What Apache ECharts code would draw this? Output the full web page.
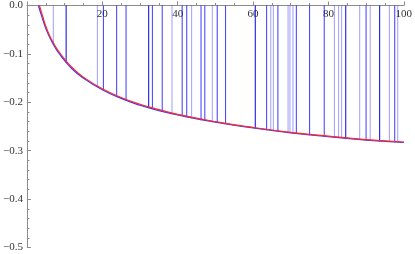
<!DOCTYPE html>
<html><head><meta charset="utf-8">
<script src="https://cdn.jsdelivr.net/npm/echarts@6/dist/echarts.min.js"></script>
<style>html,body{margin:0;padding:0;background:#fff}#c{width:415px;height:254px}</style>
</head><body><div id="c"></div>
<script>
// Curves (x, y)
const curveX = [3.3, 4, 5, 6, 7, 8, 10, 12, 15, 20, 25, 30, 35, 40, 50, 60, 70, 80, 90, 100];
const redY   = [0, -0.018, -0.043, -0.062, -0.077, -0.090, -0.111, -0.128, -0.148, -0.172, -0.190, -0.204, -0.215, -0.225, -0.240, -0.252, -0.262, -0.270, -0.277, -0.282];
const blueX  = [3.05, 4, 5, 6, 7, 8, 10, 12, 15, 20, 25, 30, 35, 40, 50, 60, 70, 80, 90, 100];
const blueY  = [0, -0.024, -0.047, -0.065, -0.080, -0.093, -0.114, -0.131, -0.150, -0.174, -0.192, -0.206, -0.217, -0.226, -0.241, -0.253, -0.263, -0.271, -0.278, -0.283];

// Vertical lines from 0 down to the curve
const lightLineX   = [7.0, 18.7, 38.5, 43.7, 49.2, 64.7, 65.4, 69.3, 69.8, 70.6, 81.6, 82.7, 83.5, 88.3, 91.1, 96.2, 98.4];
const lightLineEnd = [-0.079, -0.169, -0.224, -0.233, -0.241, -0.259, -0.260, -0.263, -0.264, -0.264, -0.273, -0.274, -0.275, -0.278, -0.280, -0.282, -0.283];
const midLineX     = [20.3, 23.8, 26.3, 33.3, 35.9, 41.2, 42.4, 46.2, 47.2, 50.5, 52.7, 63.6, 66.6, 71.5, 75.0, 78.9, 90.0, 97.6];
const midLineEnd   = [-0.175, -0.188, -0.196, -0.213, -0.219, -0.229, -0.231, -0.237, -0.238, -0.243, -0.245, -0.258, -0.261, -0.265, -0.268, -0.271, -0.279, -0.283];
const darkLineX    = [10.4, 32.3, 60.6, 84.6, 93.6];
const darkLineEnd  = [-0.118, -0.211, -0.254, -0.275, -0.281];

const xTicks = [20, 40, 60, 80, 100];
const yTicks = [0, -0.1, -0.2, -0.3, -0.4, -0.5];

const zip = (a, b) => a.map((v, i) => [v, b[i]]);

function vlineSeries(xs, ends, color) {
  return {
    type: 'custom',
    data: zip(xs, ends),
    silent: true,
    z: 1,
    renderItem: function (params, api) {
      const p0 = api.coord([api.value(0), 0]);
      const p1 = api.coord([api.value(0), api.value(1)]);
      return {
        type: 'line',
        shape: { x1: p0[0], y1: p0[1], x2: p1[0], y2: p1[1] },
        style: { stroke: color, lineWidth: 1.1 }
      };
    }
  };
}

const axisGray = '#8c8c8c';
const labelFont = { fontFamily: 'Liberation Serif', fontSize: 11, color: '#333' };

const chart = echarts.init(document.getElementById('c'), null, { renderer: 'canvas' });
chart.setOption({
  animation: false,
  grid: { left: 23.3, right: 8.3, top: 5, bottom: 6.5, containLabel: false },
  xAxis: {
    type: 'value', min: 0, max: 100, interval: 20,
    position: 'top',
    axisLine: { show: true, onZero: false, lineStyle: { color: axisGray, width: 1 } },
    axisTick: { show: true, inside: false, length: 4, lineStyle: { color: axisGray } },
    minorTick: { show: true, splitNumber: 4, length: 2.5, lineStyle: { color: axisGray } },
    splitLine: { show: false },
    axisLabel: Object.assign({ inside: true, margin: 3, verticalAlign: 'top',
      alignMaxLabel: 'center', hideOverlap: false,
      formatter: v => xTicks.includes(v) ? String(v) : '' }, labelFont)
  },
  yAxis: {
    type: 'value', min: -0.5, max: 0, interval: 0.1,
    axisLine: { show: true, onZero: false, lineStyle: { color: axisGray, width: 1 } },
    axisTick: { show: true, inside: true, length: 4, lineStyle: { color: axisGray } },
    minorTick: { show: true, splitNumber: 5, length: 2.5, lineStyle: { color: axisGray } },
    splitLine: { show: false },
    axisLabel: Object.assign({ margin: 4, formatter: v => {
      const t = yTicks.find(k => Math.abs(k - v) < 1e-9);
      if (t === undefined) return '';
      return t === 0 ? '0.0' : '\u2212' + Math.abs(t).toFixed(1);
    } }, labelFont)
  },
  series: [
    vlineSeries(lightLineX, lightLineEnd, 'rgba(0,0,255,0.35)'),
    vlineSeries(midLineX, midLineEnd, 'rgba(0,0,255,0.7)'),
    vlineSeries(darkLineX, darkLineEnd, 'rgba(0,0,235,0.9)'),
    { type: 'line', data: zip(blueX, blueY), smooth: true, symbol: 'none', z: 3,
      lineStyle: { color: '#3a3aff', width: 1.3 } },
    { type: 'line', data: zip(curveX, redY), smooth: true, symbol: 'none', z: 4,
      lineStyle: { color: '#ff2a2a', width: 1.2 } }
  ]
});
</script></body></html>
